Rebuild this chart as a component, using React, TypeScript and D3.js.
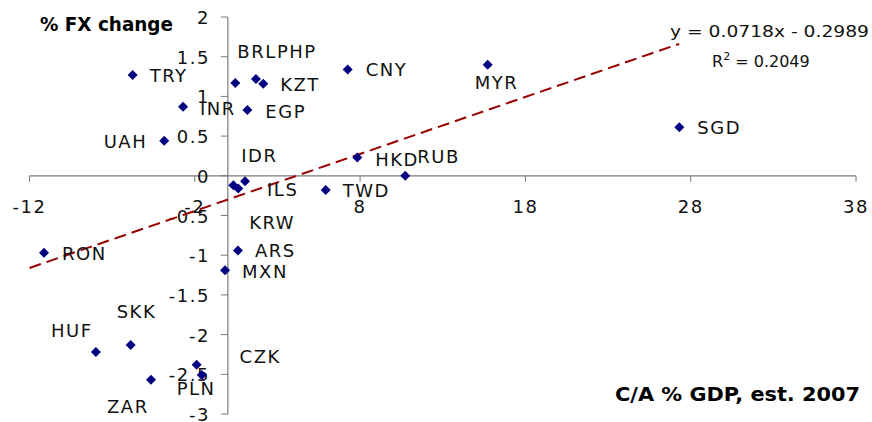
import React from "react";
import * as d3 from "d3";

const currencies = ["TRY","INR","BRL","PHP","KZT","EGP","UAH","IDR","ILS","KRW","ARS","MXN","RON","SKK","HUF","CZK","PLN","ZAR","CNY","MYR","HKD","RUB","TWD","SGD"];
const caGdp = [-5.76,-2.71,0.45,1.70,2.14,1.18,-3.85,0.33,1.04,0.63,0.61,-0.17,-11.12,-5.88,-7.98,-1.89,-1.58,-4.65,7.25,15.72,7.83,10.73,5.92,27.31];
const fxChange = [1.27,0.87,1.17,1.22,1.16,0.83,0.44,-0.12,-0.07,-0.16,-0.94,-1.19,-0.97,-2.13,-2.22,-2.38,-2.51,-2.57,1.34,1.40,0.23,0.0,-0.18,0.61];
const xTicks = [-12,-2,8,18,28,38];
const yTicks = [-3,-2.5,-2,-1.5,-1,-0.5,0,0.5,1,1.5,2];
const slope = 0.0718;
const intercept = -0.2989;
const eqText = "y = 0.0718x - 0.2989";
const r2Text = "0.2049";

// label offsets in px (dx, dy, anchor)
const labelOffsets: [number, number, string][] = [
  [17,7,"start"],[17,8,"start"],[2,-25,"start"],[21,-21,"start"],[17,7,"start"],[18,8,"start"],
  [-17,7,"end"],[8,-23,"start"],[22,15,"start"],[11,40,"start"],[17,7,"start"],[17,8,"start"],
  [18,7,"start"],[-14,-27,"start"],[-45,-15,"start"],[43,-2,"start"],[-25,20,"start"],[-44,33,"start"],
  [18,7,"start"],[-13,24,"start"],[18,8,"start"],[12,-13,"start"],[17,7,"start"],[18,7,"start"]
];

export default function App() {
  const W = 872, H = 422;
  const x = d3.scaleLinear().domain([-12, 38]).range([29.5, 856]);
  const y = d3.scaleLinear().domain([-3, 2]).range([414, 17]);
  const x0 = x(0), y0 = y(0);
  const font = "'DejaVu Sans', Verdana, sans-serif";
  const axisColor = "#7a7a7a";
  const xMax = d3.max(caGdp) as number;
  const line = d3.line<number>().x(d => x(d)).y(d => y(slope * d + intercept));
  const diamond = "M0,-5L5,0L0,5L-5,0Z";
  return (
    <svg width={W} height={H} style={{ position: "absolute", left: 0, top: 0, background: "#fff" }}>
      {/* x axis */}
      <line x1={x(-12)} x2={x(38)} y1={y0} y2={y0} stroke={axisColor} strokeWidth={1.2} />
      {xTicks.map(t => (
        <g key={"xt" + t}>
          <line x1={x(t)} x2={x(t)} y1={y0} y2={y0 + 6} stroke={axisColor} />
          <text x={x(t)} y={y0 + 37} textAnchor="middle" fontFamily={font} fontSize={18} letterSpacing={1.5} fill="#111">{t}</text>
        </g>
      ))}
      {/* y axis */}
      <line x1={x0} x2={x0} y1={y(-3)} y2={y(2)} stroke={axisColor} strokeWidth={1.2} />
      {yTicks.map(t => (
        <g key={"yt" + t}>
          <line x1={x0 - 7} x2={x0} y1={y(t)} y2={y(t)} stroke={axisColor} />
          <text x={x0 - 18} y={y(t) + 7} textAnchor="end" fontFamily={font} fontSize={18} letterSpacing={1.5} fill="#111">{t}</text>
        </g>
      ))}
      {/* trend line */}
      <path d={line([-12, xMax]) || ""} fill="none" stroke="#990000" strokeWidth={2} strokeDasharray="12,6" />
      {/* points */}
      {currencies.map((c, i) => (
        <path key={"p" + c} d={diamond} transform={`translate(${x(caGdp[i])},${y(fxChange[i])})`} fill="#000080" />
      ))}
      {currencies.map((c, i) => (
        <text key={"l" + c} x={x(caGdp[i]) + labelOffsets[i][0]} y={y(fxChange[i]) + labelOffsets[i][1]}
          textAnchor={labelOffsets[i][2]} fontFamily={font} fontSize={18} letterSpacing={1.5} fill="#111">{c}</text>
      ))}
      {/* titles */}
      <text x={40} y={31} fontFamily={font} fontWeight="bold" fontSize={19} textLength={133} lengthAdjust="spacingAndGlyphs" fill="#000">% FX change</text>
      <text x={615} y={401} fontFamily={font} fontWeight="bold" fontSize={19} textLength={245} lengthAdjust="spacingAndGlyphs" fill="#000">C/A % GDP, est. 2007</text>
      <text x={670} y={37} fontFamily={font} fontSize={16} textLength={199} lengthAdjust="spacingAndGlyphs" fill="#111">{eqText}</text>
      <text x={712} y={67} fontFamily={font} fontSize={16} fill="#111">
        R<tspan dy={-7} fontSize={11}>2</tspan><tspan dy={7}>{" = " + r2Text}</tspan>
      </text>
    </svg>
  );
}
